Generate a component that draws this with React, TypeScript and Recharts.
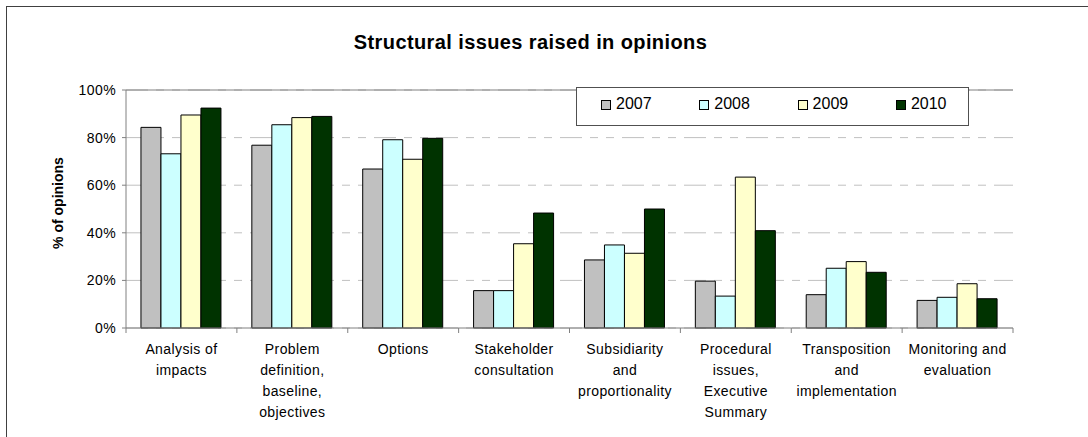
import React from 'react';
import { BarChart, Bar, XAxis, YAxis, CartesianGrid, Legend, ReferenceLine } from 'recharts';

const categories: string[][] = [
  ['Analysis of', 'impacts'],
  ['Problem', 'definition,', 'baseline,', 'objectives'],
  ['Options'],
  ['Stakeholder', 'consultation'],
  ['Subsidiarity', 'and', 'proportionality'],
  ['Procedural', 'issues,', 'Executive', 'Summary'],
  ['Transposition', 'and', 'implementation'],
  ['Monitoring and', 'evaluation'],
];
const v2007 = [0.843, 0.768, 0.668, 0.157, 0.286, 0.197, 0.14, 0.116];
const v2008 = [0.732, 0.854, 0.791, 0.157, 0.349, 0.134, 0.251, 0.129];
const v2009 = [0.895, 0.884, 0.709, 0.354, 0.314, 0.634, 0.279, 0.186];
const v2010 = [0.924, 0.889, 0.797, 0.483, 0.5, 0.409, 0.234, 0.123];
const yTicks = [0, 0.2, 0.4, 0.6, 0.8, 1];
const series = [
  { key: 'y2007', name: '2007', color: '#C0C0C0' },
  { key: 'y2008', name: '2008', color: '#CCFFFF' },
  { key: 'y2009', name: '2009', color: '#FFFFCC' },
  { key: 'y2010', name: '2010', color: '#003300' },
];

const data = categories.map((c, i) => ({
  name: c.join(' '),
  y2007: v2007[i],
  y2008: v2008[i],
  y2009: v2009[i],
  y2010: v2010[i],
}));

const FONT = '"Liberation Sans", Arial, sans-serif';

const XTick = (props: any) => {
  const { x, y, payload, index } = props;
  const off = payload && typeof payload.offset === 'number' && payload.offset > 0 ? payload.offset : 55.45;
  const idx = payload.index ?? index;
  const lines = categories[idx] || [String(payload.value)];
  return (
    <g>
      <line x1={x - off} y1={y} x2={x - off} y2={y + 5} stroke="#808080" />
      {idx === categories.length - 1 && (
        <line x1={x + off} y1={y} x2={x + off} y2={y + 5} stroke="#808080" />
      )}
      {lines.map((l, i) => (
        <text
          key={i}
          x={x}
          y={y + 26 + i * 21}
          textAnchor="middle"
          fontFamily={FONT}
          fontSize={14}
          letterSpacing={0.4}
          fill="#000"
        >
          {l}
        </text>
      ))}
    </g>
  );
};

const LegendContent = () => (
  <div
    style={{
      width: 393,
      height: 39,
      boxSizing: 'border-box',
      border: '1px solid #505050',
      background: '#fff',
      position: 'relative',
      fontFamily: FONT,
      fontSize: 16,
    }}
  >
    {series.map((s, i) => (
      <div key={s.key} style={{ position: 'absolute', left: 24 + i * 98.3, top: 7, display: 'flex', alignItems: 'flex-end', lineHeight: '18px' }}>
        <span
          style={{
            display: 'inline-block',
            width: 10,
            height: 10,
            background: s.color,
            border: '1px solid #000',
            boxSizing: 'border-box',
            marginRight: 5,
            marginBottom: 3,
          }}
        />
        <span style={{ color: '#000' }}>{s.name}</span>
      </div>
    ))}
  </div>
);

export default function App() {
  return (
    <div style={{ position: 'fixed', left: 0, top: 0, width: 1088, height: 437, background: '#fff', overflow: 'hidden' }}>
      <div
        style={{
          position: 'absolute',
          left: 6,
          top: 6,
          width: 1200,
          height: 600,
          borderLeft: '1px solid #404040',
          borderTop: '1px solid #404040',
        }}
      />
      <div
        style={{
          position: 'absolute',
          left: 0,
          width: 1061,
          top: 31,
          textAlign: 'center',
          fontFamily: FONT,
          fontWeight: 'bold',
          fontSize: 20,
          letterSpacing: 0.4,
          color: '#000',
        }}
      >
        Structural issues raised in opinions
      </div>
      <div style={{ position: 'absolute', left: 0, top: 0 }}>
        <BarChart
          width={1088}
          height={437}
          data={data}
          margin={{ top: 90, right: 75, left: 0, bottom: 0 }}
          barCategoryGap="13.5%"
          barGap={0}
        >
          <CartesianGrid vertical={false} horizontal stroke="#C0C0C0" strokeDasharray="22 8 8 8 8 8" />
          <XAxis
            dataKey="name"
            interval={0}
            height={109}
            tick={<XTick />}
            tickLine={false}
            tickSize={0}
            tickMargin={0}
            axisLine={{ stroke: '#808080' }}
          />
          <YAxis
            width={126}
            domain={[0, 1]}
            ticks={yTicks}
            interval={0}
            tickFormatter={(v: number) => `${Math.round(v * 100)}%`}
            tick={{ fontFamily: FONT, fontSize: 14, fill: '#000', letterSpacing: 0.4 }}
            tickSize={4}
            tickMargin={6}
            tickLine={{ stroke: '#808080' }}
            axisLine={{ stroke: '#808080' }}
            label={{
              content: () => (
                <text
                  x={63}
                  y={203}
                  transform="rotate(-90 63 203)"
                  textAnchor="middle"
                  fontFamily={FONT}
                  fontWeight="bold"
                  fontSize={14}
                  fill="#000"
                >
                  % of opinions
                </text>
              ),
            }}
          />
          <YAxis yAxisId="r" orientation="right" width={0} tick={false} tickLine={false} axisLine={{ stroke: '#808080' }} domain={[0, 1]} />
          <ReferenceLine y={1} stroke="#808080" strokeDasharray="0" />
          {series.map((s) => (
            <Bar key={s.key} dataKey={s.key} name={s.name} fill={s.color} stroke="#000" strokeWidth={1} isAnimationActive={false} />
          ))}
          <Legend
            layout="horizontal"
            verticalAlign="middle"
            align="center"
            content={<LegendContent />}
            wrapperStyle={{ position: 'absolute', left: 576, top: 87, width: 393, height: 39 }}
          />
        </BarChart>
      </div>
    </div>
  );
}
